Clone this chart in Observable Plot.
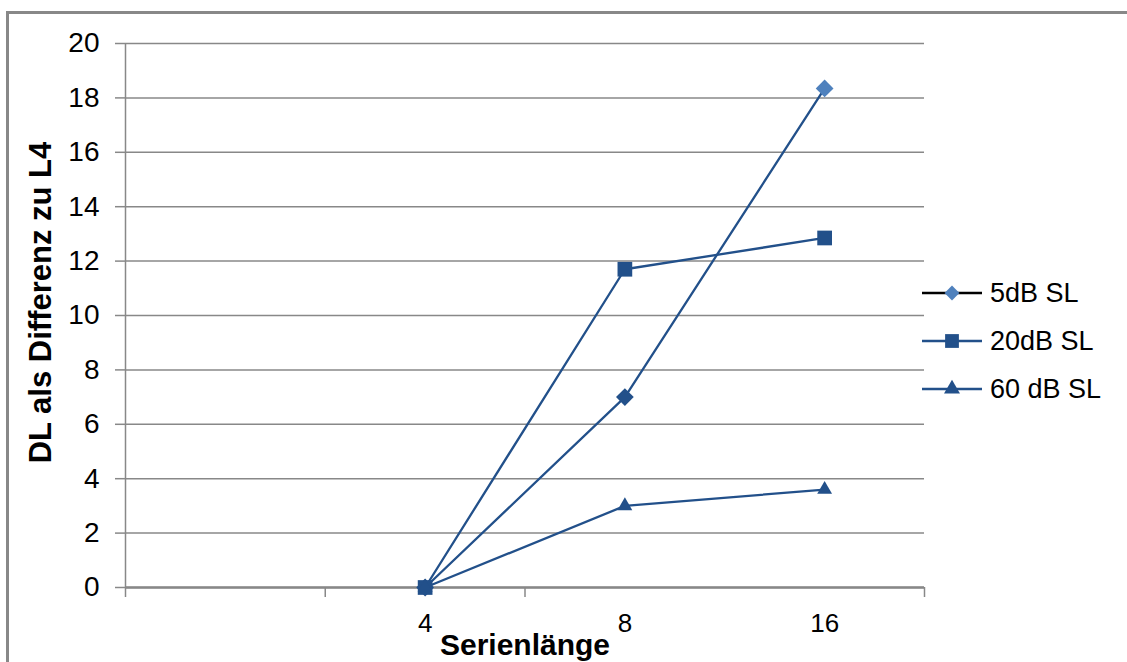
<!DOCTYPE html>
<html>
<head>
<meta charset="utf-8">
<script src="https://cdn.jsdelivr.net/npm/d3@7"></script>
<script src="https://cdn.jsdelivr.net/npm/@observablehq/plot@0.6"></script>
<style>
  html, body { margin: 0; padding: 0; background: #fff; }
  #wrap { position: relative; width: 1127px; height: 662px; overflow: hidden; font-family: "Liberation Sans", Arial, sans-serif; }
  #frame { position: absolute; left: 6px; top: 11px; width: 1200px; height: 800px; border-top: 3px solid #888; border-left: 3px solid #888; box-sizing: border-box; }
  #chart { position: absolute; left: 0; top: 0; }
  #legend { position: absolute; left: 922px; top: 269px; }
  .item { display: flex; align-items: center; height: 48px; font-size: 27px; color: #000; }
  .item svg { margin-right: 6px; }
</style>
</head>
<body>
<div id="wrap">
  <div id="frame"></div>
  <div id="chart"></div>
  <div id="legend"></div>
</div>
<script>
// Series length categories (first slot is an empty category)
const categories = ["", "4", "8", "16"];
const seriesNames = ["5dB SL", "20dB SL", "60 dB SL"];
const seriesLengths = ["4", "8", "16"];
const values5dB  = [0, 7.0, 18.35];
const values20dB = [0, 11.7, 12.85];
const values60dB = [0, 3.0, 3.6];
const yTicks = [0, 2, 4, 6, 8, 10, 12, 14, 16, 18, 20];

const dark = "#22508a";
const light = "#4f81bd";
const grid = "#888888";

const allValues = [values5dB, values20dB, values60dB];
const data = [];
seriesNames.forEach((s, k) => {
  seriesLengths.forEach((len, i) => {
    data.push({series: s, k, last: i === seriesLengths.length - 1,
               x: categories.indexOf(len) + 0.5, y: allValues[k][i]});
  });
});
// label positions at category centres, tick marks on category boundaries
const centers = categories.map((c, i) => i + 0.5).filter((v, i) => categories[i] !== "");
const boundaries = [0, 1, 2, categories.length];

const chart = Plot.plot({
  width: 1127,
  height: 662,
  marginLeft: 125,
  marginRight: 203,
  marginTop: 43,
  marginBottom: 75,
  style: {fontFamily: "'Liberation Sans', Arial, sans-serif", background: "transparent"},
  x: {domain: [0, categories.length]},
  y: {domain: [0, 20]},
  marks: [
    Plot.gridY(yTicks, {stroke: grid, strokeOpacity: 1, strokeWidth: 1.5}),
    Plot.axisY(yTicks, {tickSize: 10, tickPadding: 16, stroke: grid, strokeWidth: 1.5, strokeOpacity: 1,
      fontSize: 28, fill: "#000", label: null}),
    Plot.ruleX([0], {stroke: grid, strokeWidth: 1.5}),
    Plot.axisX(boundaries, {tickSize: 10, tickFormat: () => "", stroke: grid, strokeWidth: 1.5, strokeOpacity: 1, label: null}),
    Plot.axisX(centers, {tickSize: 0, tickPadding: 26, fontSize: 26, fill: "#000",
      tickFormat: v => categories[Math.floor(v)], label: null}),
    Plot.ruleY([0], {stroke: grid, strokeWidth: 2.5}),
    Plot.line(data, {x: "x", y: "y", z: "series", stroke: dark, strokeWidth: 2.3}),
    Plot.dot(data.filter(d => d.k === 0), {x: "x", y: "y", symbol: "diamond2", r: 8, stroke: null,
      fill: d => d.last ? light : dark}),
    Plot.dot(data.filter(d => d.k === 1), {x: "x", y: "y", symbol: "square", r: 8.3, stroke: null, fill: dark}),
    Plot.dot(data.filter(d => d.k === 2), {x: "x", y: "y", symbol: "triangle", r: 5.5, stroke: null, fill: dark}),
    Plot.text(["Serienlänge"], {frameAnchor: "bottom", dy: 67, fontSize: 30, fontWeight: "bold", fill: "#000"}),
    Plot.text(["DL als Differenz zu L4"], {frameAnchor: "left", textAnchor: "middle", lineAnchor: "middle",
      rotate: -90, dx: -84, dy: -13, fontSize: 31, fontWeight: "bold", fill: "#000"})
  ]
});
document.getElementById("chart").append(chart);

// Legend: line with marker, then label
const legend = document.getElementById("legend");
const legendLine = ["#000", dark, dark];
const legendFill = [light, dark, dark];
const legendSymbols = [d3.symbolDiamond2, d3.symbolSquare, d3.symbolTriangle];
seriesNames.forEach((s, k) => {
  const item = document.createElement("div");
  item.className = "item";
  const svg = d3.create("svg").attr("width", 62).attr("height", 20);
  svg.append("line").attr("x1", 0).attr("x2", 60).attr("y1", 10).attr("y2", 10)
    .attr("stroke", legendLine[k]).attr("stroke-width", 2.5);
  svg.append("path").attr("d", d3.symbol(legendSymbols[k], [140, 190, 110][k])())
    .attr("transform", "translate(30,10)").attr("fill", legendFill[k]);
  item.append(svg.node());
  const label = document.createElement("span");
  label.textContent = s;
  item.append(label);
  legend.append(item);
});
</script>
</body>
</html>
